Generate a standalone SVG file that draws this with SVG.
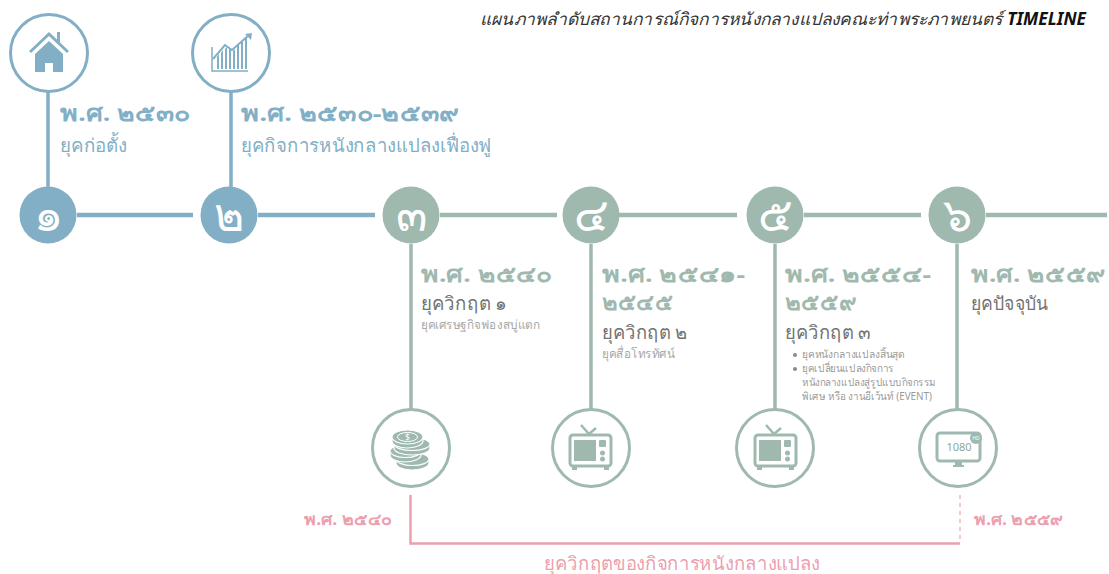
<svg xmlns="http://www.w3.org/2000/svg" width="1109" height="574" viewBox="0 0 1109 574">
<style>
text{font-family:"Noto Sans","DejaVu Sans","Liberation Sans",sans-serif}
.ls{stroke:#82afc5;stroke-width:4.500;fill:none}.lg{stroke:#9fb9af;stroke-width:4.500;fill:none}
.vb{stroke:#82afc5;stroke-width:3.500;fill:none}.vg{stroke:#9fb9af;stroke-width:3.500;fill:none}
.rb{fill:#fff;stroke:#82afc5;stroke-width:3}.rg{fill:#fff;stroke:#9fb9af;stroke-width:3}
.n{fill:#fff;font-size:46px;text-anchor:middle;font-weight:300}
.y{font-size:22px;font-weight:700}
.m{font-size:19px;fill:#737373}
.s{font-size:12.500px;fill:#a8a8a8}
.t{font-size:10.500px;fill:#9a9a9a}
.py{font-size:16px;font-weight:700;fill:#ec9fae}
.b{fill:#82afc5}.g{fill:#9fb9af}.p{fill:#ec9fae}
.coin{fill:#9fb9af;stroke:#fff;stroke-width:1.200}
</style>
<defs>
<g id="tv">
<path d="M-9-24-1-15 6-21" fill="none" stroke="#9fb9af" stroke-width="2.500"/>
<rect x="-20" y="-14" width="41" height="31" rx="3" fill="none" stroke="#9fb9af" stroke-width="3"/>
<rect x="-16" y="-9" width="22" height="21" fill="#9fb9af"/><rect x="9" y="-9" width="7" height="7" rx="1" fill="#9fb9af"/><circle fill="#9fb9af" cx="12.500" cy="4" r="2.500"/><circle fill="#9fb9af" cx="12.500" cy="10" r="2.500"/>
<path fill="#9fb9af" d="M-18 18h5v3h-5zM14 18h5v3h-5z"/>
</g>
</defs>
<text x="480" y="25" font-size="17" font-style="italic" fill="#333" textLength="606" lengthAdjust="spacingAndGlyphs">แผนภาพลำดับสถานการณ์กิจการหนังกลางแปลงคณะท่าพระภาพยนตร์ <tspan font-weight="700" fill="#111">TIMELINE</tspan></text>
<g id="connectors">
<path class="vb" d="M48 90V190M231 90V190"/><path class="ls" d="M77 215H193M258 215H375"/>
<path class="lg" d="M440 215H557M619 215H737M804 215H921M986 215H1107"/>
<path class="vg" d="M411 244V410M591 244V410M775 244V410M957 244V410"/>
<path d="M410.500 495V543.500H960" fill="none" stroke="#ec9fae" stroke-width="2.500"/>
<path d="M960 495V543" fill="none" stroke="#f0b8c2" stroke-width="1.500" stroke-dasharray="4 4"/>
</g>
<g id="node1">
<circle class="rb" cx="49" cy="53" r="38.500"/>
<path class="b" d="M29 51 49 32 69 51 67 53 49 36 31 53Z"/><path class="b" d="M35 54 49 41 63 54V72H53V63H45V72H35Z"/><path class="b" d="M57 32h3v10h-3z"/>
<circle class="b" cx="48" cy="215" r="28.500"/><text class="n" x="48" y="231">๑</text>
<text class="y b" x="60" y="121" textLength="130" lengthAdjust="spacingAndGlyphs">พ.ศ. ๒๕๓๐</text>
<text class="m b" x="60" y="152" textLength="67" lengthAdjust="spacingAndGlyphs">ยุคก่อตั้ง</text>
</g>
<g id="node2">
<circle class="rb" cx="231" cy="53" r="38.500"/>
<path d="M212 47V71H248" fill="none" stroke="#82afc5" stroke-width="1.500"/>
<path class="b" d="M217 69V57l2-3V69zM221 69V53l2-3V69zM225 69V49l2-2V69zM229 69V48l2 2V69zM233 69V51l2-2V69zM237 69V46l2-2V69zM241 69V43l2-2V69zM245 69V39l2-2V69z"/>
<path d="M213 59 225 45 232 50 249 35" fill="none" stroke="#82afc5" stroke-width="2"/><path class="b" d="M245 34 252 33 251 40Z"/>
<circle class="b" cx="229" cy="215" r="28.500"/><text class="n" x="229" y="231">๒</text>
<text class="y b" x="241" y="121" textLength="218" lengthAdjust="spacingAndGlyphs">พ.ศ. ๒๕๓๐-๒๕๓๙</text>
<text class="m b" x="241" y="152" textLength="250" lengthAdjust="spacingAndGlyphs">ยุคกิจการหนังกลางแปลงเฟื่องฟู</text>
</g>
<g id="node3">
<circle class="g" cx="411" cy="215" r="28.500"/><text class="n" x="411" y="231">๓</text>
<text class="y g" x="421" y="282" textLength="131" lengthAdjust="spacingAndGlyphs">พ.ศ. ๒๕๔๐</text>
<text class="m" x="421" y="310" textLength="86" lengthAdjust="spacingAndGlyphs">ยุควิกฤต ๑</text>
<text class="s" x="421" y="329" textLength="119" lengthAdjust="spacingAndGlyphs">ยุคเศรษฐกิจฟองสบู่แตก</text>
<circle class="rg" cx="411" cy="448" r="38.500"/>
<path class="coin" d="M396 459v4c0 4 7 7 16 7s17-3 17-7v-4z"/><ellipse class="coin" cx="412.500" cy="459" rx="16.500" ry="6.500"/>
<path class="coin" d="M390 451v4c0 4 7 7 15 7s16-3 16-7v-4z"/><ellipse class="coin" cx="405.500" cy="451" rx="15.500" ry="6.500"/>
<path class="coin" d="M394 444v4c0 4 8 7 18 7s18-3 18-7v-4z"/><ellipse class="coin" cx="412" cy="444" rx="18" ry="6.500"/>
<path class="coin" d="M392 437v4c0 4 7 7 15 7s16-3 16-7v-4z"/><ellipse class="coin" cx="407.500" cy="437" rx="15.500" ry="7"/>
<ellipse cx="407.500" cy="437" rx="10" ry="4.500" fill="none" stroke="#fff" stroke-width="1"/>
<text x="407.500" y="440" font-size="8" text-anchor="middle" fill="#fff">$</text>
</g>
<g id="node4">
<circle class="g" cx="591" cy="215" r="28.500"/><text class="n" x="591" y="231">๔</text>
<text class="y g" x="602" y="282" textLength="143" lengthAdjust="spacingAndGlyphs">พ.ศ. ๒๕๔๑-</text>
<text class="y g" x="602" y="310" textLength="71" lengthAdjust="spacingAndGlyphs">๒๕๔๕</text>
<text class="m" x="602" y="339" textLength="86" lengthAdjust="spacingAndGlyphs">ยุควิกฤต ๒</text>
<text class="s" x="602" y="358" textLength="73" lengthAdjust="spacingAndGlyphs">ยุคสื่อโทรทัศน์</text>
<circle class="rg" cx="591" cy="448" r="38.500"/>
<use href="#tv" x="590" y="449"/>
</g>
<g id="node5">
<circle class="g" cx="775" cy="215" r="28.500"/><text class="n" x="775" y="231">๕</text>
<text class="y g" x="785" y="282" textLength="146" lengthAdjust="spacingAndGlyphs">พ.ศ. ๒๕๕๔-</text>
<text class="y g" x="785" y="310" textLength="71" lengthAdjust="spacingAndGlyphs">๒๕๕๙</text>
<text class="m" x="785" y="339" textLength="86" lengthAdjust="spacingAndGlyphs">ยุควิกฤต ๓</text>
<circle cx="795" cy="355" r="2" fill="#8a8a8a"/><circle cx="795" cy="369" r="2" fill="#8a8a8a"/>
<text class="t" x="802" y="358" textLength="103" lengthAdjust="spacingAndGlyphs">ยุคหนังกลางแปลงสิ้นสุด</text>
<text class="t" x="802" y="372" textLength="92" lengthAdjust="spacingAndGlyphs">ยุคเปลี่ยนแปลงกิจการ</text>
<text class="t" x="802" y="386" textLength="134" lengthAdjust="spacingAndGlyphs">หนังกลางแปลงสู่รูปแบบกิจกรรม</text>
<text class="t" x="802" y="400" textLength="130" lengthAdjust="spacingAndGlyphs">พิเศษ หรือ งานอีเว้นท์ (EVENT)</text>
<circle class="rg" cx="775" cy="448" r="38.500"/>
<use href="#tv" x="775" y="449"/>
</g>
<g id="node6">
<circle class="g" cx="957" cy="215" r="28.500"/><text class="n" x="957" y="231">๖</text>
<text class="y g" x="971" y="282" textLength="134" lengthAdjust="spacingAndGlyphs">พ.ศ. ๒๕๕๙</text>
<text class="m" x="971" y="310" textLength="77" lengthAdjust="spacingAndGlyphs">ยุคปัจจุบัน</text>
<circle class="rg" cx="958" cy="448" r="38.500"/>
<rect x="937" y="433" width="43" height="28" rx="3" fill="none" stroke="#9fb9af" stroke-width="3"/>
<path class="g" d="M955 461h7v4h2v2h-11v-2h2z"/>
<text x="959" y="451" font-size="11" text-anchor="middle" fill="#8fa79e" font-family="Liberation Sans">1080</text>
<circle class="g" cx="976" cy="438" r="6"/><text x="976" y="440" font-size="5" text-anchor="middle" fill="#fff">HD</text>
</g>
<g id="period">
<text class="py" x="304" y="525" textLength="88" lengthAdjust="spacingAndGlyphs">พ.ศ. ๒๕๔๐</text>
<text class="py" x="974" y="525" textLength="89" lengthAdjust="spacingAndGlyphs">พ.ศ. ๒๕๕๙</text>
<text class="p" x="544" y="570" font-size="19" textLength="276" lengthAdjust="spacingAndGlyphs">ยุควิกฤตของกิจการหนังกลางแปลง</text>
</g>
</svg>
